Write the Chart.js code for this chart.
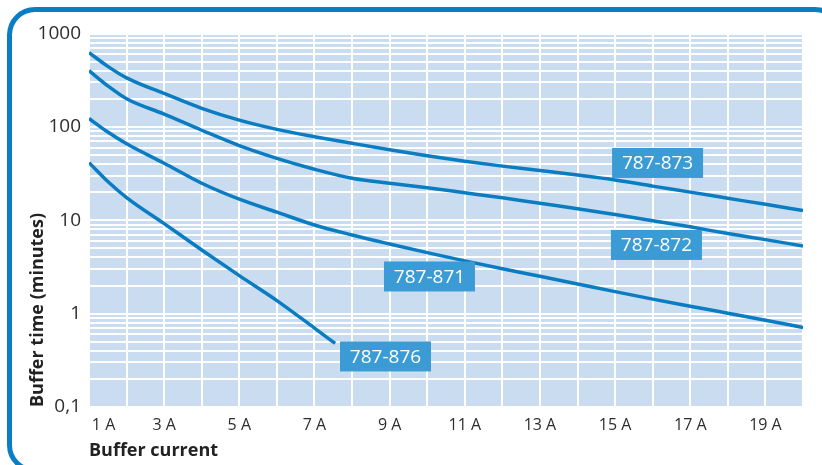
<!DOCTYPE html>
<html>
<head>
<meta charset="utf-8">
<script src="https://cdn.jsdelivr.net/npm/chart.js@4.4.1/dist/chart.umd.min.js"></script>
<style>
  html, body { margin: 0; padding: 0; background: #fff; overflow: hidden; width: 822px; height: 465px; }
  #frame { position: absolute; left: 7px; top: 7px; width: 836px; height: 466px; box-sizing: border-box;
           border: 5px solid #0a7ec4; border-radius: 28px; }
  #chart { position: absolute; left: 0; top: 0; }
</style>
</head>
<body>
<div id="frame"></div>
<canvas id="chart" width="822" height="465"></canvas>
<script>
// Buffer time (minutes) per buffer current (A), one curve per module
const seriesNames = ['787-873', '787-872', '787-871', '787-876'];
const currents = [1, 1.5, 2, 3, 4, 5, 6, 7, 8, 9, 10, 11, 12, 13, 14, 15, 16, 17, 18, 19, 20];
const currents876 = [1, 1.5, 2, 3, 4, 5, 6, 7, 7.55];
const time873 = [625, 445, 335, 228, 158, 118, 94, 78.5, 66.7, 56.9, 49, 42.9, 38, 34.1, 30.5, 27, 23.2, 20, 17.2, 14.8, 12.7];
const time872 = [400, 275, 200, 137, 92, 63, 46, 35.2, 28.2, 24.9, 22.3, 19.7, 17.4, 15.2, 13.3, 11.5, 9.9, 8.5, 7.2, 6.2, 5.3];
const time871 = [123, 88, 66, 40.8, 24.9, 16.8, 12.2, 8.9, 6.96, 5.57, 4.5, 3.67, 3.02, 2.51, 2.08, 1.72, 1.43, 1.2, 1.01, 0.85, 0.71];
const time876 = [41.4, 26, 17.5, 9.2, 4.8, 2.55, 1.38, 0.7, 0.48];

// axes
const xTickValues = [1, 3, 5, 7, 9, 11, 13, 15, 17, 19];
const yDecades = [0.1, 1, 10, 100, 1000];
const yTickLabels = ['0,1', '1', '10', '100', '1000'];

const lineColor = '#0a7dc2';
const txtFont = "'Open Sans', 'DejaVu Sans', sans-serif";

function points(xs, ys) {
    return xs.map((x, i) => ({ x: x, y: ys[i] }));
}

// fond bleu clair de la zone de tracé
const plotBackground = {
    id: 'plotBackground',
    beforeDraw(chart) {
        const a = chart.chartArea;
        const ctx = chart.ctx;
        ctx.save();
        ctx.fillStyle = '#cadcf0';
        ctx.fillRect(a.left, a.top, a.right - a.left, a.bottom - a.top);
        ctx.restore();
    }
};

// étiquettes des courbes (positions en valeurs d'axes)
const labelSpots = [
    { x: 16.13, y: 41.1 },
    { x: 16.1, y: 5.44 },
    { x: 10.06, y: 2.5 },
    { x: 8.89, y: 0.348 }
];

const curveLabels = {
    id: 'curveLabels',
    afterDatasetsDraw(chart) {
        const ctx = chart.ctx;
        const xs = chart.scales.x;
        const ys = chart.scales.y;
        ctx.save();
        ctx.font = '19px ' + txtFont;
        ctx.textAlign = 'center';
        ctx.textBaseline = 'middle';
        labelSpots.forEach((spot, i) => {
            const cx = xs.getPixelForValue(spot.x);
            const cy = ys.getPixelForValue(spot.y);
            ctx.fillStyle = '#3b9bd4';
            ctx.fillRect(cx - 45.5, cy - 15, 91, 30);
            ctx.fillStyle = '#ffffff';
            ctx.fillText(seriesNames[i], cx, cy + 1);
        });
        ctx.restore();
    }
};

const ctx = document.getElementById('chart').getContext('2d');

new Chart(ctx, {
    type: 'line',
    data: {
        datasets: [
            { label: seriesNames[0], data: points(currents, time873) },
            { label: seriesNames[1], data: points(currents, time872) },
            { label: seriesNames[2], data: points(currents, time871) },
            { label: seriesNames[3], data: points(currents876, time876) }
        ].map(ds => Object.assign(ds, {
            borderColor: lineColor,
            borderWidth: 3.5,
            pointRadius: 0,
            fill: false,
            cubicInterpolationMode: 'monotone'
        }))
    },
    options: {
        responsive: false,
        animation: false,
        events: [],
        layout: { padding: { top: 33.5, right: 19, left: 0, bottom: 0 } },
        plugins: {
            legend: { display: false },
            tooltip: { enabled: false }
        },
        scales: {
            x: {
                type: 'linear',
                min: 1,
                max: 20,
                border: { display: false },
                grid: { color: '#ffffff', lineWidth: 2, drawTicks: false },
                ticks: {
                    stepSize: 1,
                    autoSkip: false,
                    maxRotation: 0,
                    padding: 9,
                    color: '#2e2e2e',
                    font: { family: txtFont, size: 16 },
                    callback: (v) => {
                        if (!xTickValues.includes(v)) return '';
                        // le premier libellé est décalé vers la droite
                        return v === 1 ? '       1 A' : v + ' A';
                    }
                },
                title: {
                    display: true,
                    text: 'Buffer current',
                    align: 'start',
                    color: '#222222',
                    font: { family: txtFont, size: 18, weight: 'bold' },
                    padding: { top: 0, bottom: 3 }
                },
                afterFit: (s) => { s.height = 58; }
            },
            y: {
                type: 'logarithmic',
                min: 0.1,
                max: 1000,
                border: { display: false },
                grid: { color: '#ffffff', lineWidth: 2, drawTicks: false },
                afterBuildTicks: (s) => {
                    const list = [];
                    yDecades.slice(0, -1).forEach(d => {
                        for (let m = 1; m < 10; m++) list.push({ value: d * m });
                    });
                    list.push({ value: yDecades[yDecades.length - 1] });
                    s.ticks = list;
                },
                ticks: {
                    autoSkip: false,
                    padding: 8,
                    color: '#2e2e2e',
                    font: { family: txtFont, size: 19 },
                    callback: function (v, i, ticks) {
                        const k = yDecades.findIndex(d => Math.abs(d - ticks[i].value) < 1e-9);
                        return k >= 0 ? yTickLabels[k] : '';
                    }
                },
                title: {
                    display: true,
                    text: 'Buffer time (minutes)',
                    align: 'start',
                    color: '#222222',
                    font: { family: txtFont, size: 18, weight: 'bold' },
                    padding: { top: 27, bottom: 0 }
                },
                afterFit: (s) => { s.width = 89; }
            }
        }
    },
    plugins: [plotBackground, curveLabels]
});
</script>
</body>
</html>
